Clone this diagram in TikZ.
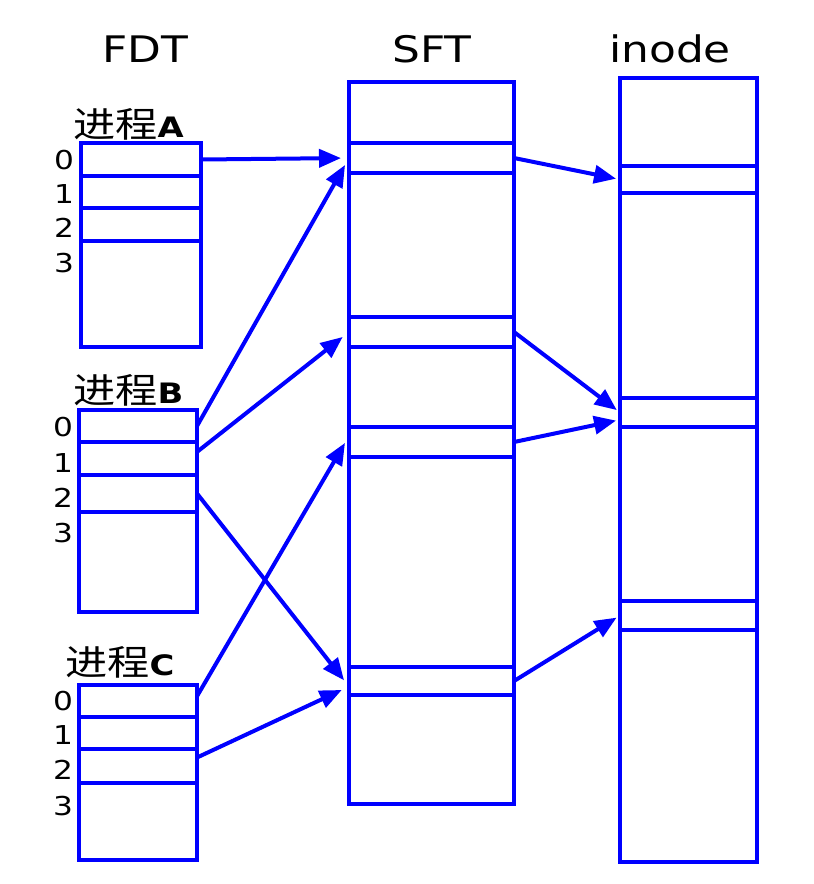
\documentclass[tikz,border=0pt]{standalone}
\usepackage{fontspec}
\setmainfont{DejaVu Sans}[FakeStretch=1.2]
\newfontfamily\cjk{Noto Sans CJK SC}[FakeStretch=1.2]
\usetikzlibrary{arrows.meta,calc}

\begin{document}
\begin{tikzpicture}[x=0.025cm, y=-0.025cm,
  cell/.style={draw=blue, line width=0.085cm, anchor=north west, inner sep=0pt, outer sep=0pt},
  ptr/.style={draw=blue, line width=0.1cm, -{Triangle[length=0.55cm, width=0.45cm]}, shorten >=0.2cm},
  title/.style={anchor=base, font=\fontsize{26}{30}\selectfont},
  idx/.style={anchor=base, font=\fontsize{18.5}{22}\selectfont},
  proc/.style={anchor=base west, inner sep=0pt, font=\fontsize{25}{30}\selectfont\cjk}]
\useasboundingbox (0,0) rectangle (814,884);
%--- headings ---
\node[title] (fdt) at (145,62) {FDT};
\node[title] (sfthead) at (432,62) {SFT};
\node[title] (inodehead) at (670,62) {inode};
%--- FDT of each process ---
\node[proc] (procA) at (73,137) {进程{\rmfamily\bfseries\fontsize{20}{24}\selectfont A}};
\foreach \n/\t/\b in {0/143/176, 1/176/208, 2/208/241, 3/241/347}
  \node[cell, minimum width=3cm, minimum height={(\b-\t)*0.025cm}] (A\n) at (81,\t) {};
\foreach \i/\y in {0/169, 1/203, 2/237, 3/272}
  \node[idx] (iA\i) at (64,\y) {\i};

\node[proc] (procB) at (73,403) {进程{\rmfamily\bfseries\fontsize{20}{24}\selectfont B}};
\foreach \n/\t/\b in {0/410/442, 1/442/475, 2/475/512, 3/512/612}
  \node[cell, minimum width=2.95cm, minimum height={(\b-\t)*0.025cm}] (B\n) at (79,\t) {};
\foreach \i/\y in {0/436, 1/472, 2/507, 3/542}
  \node[idx] (iB\i) at (63,\y) {\i};

\node[proc] (procC) at (65,675) {进程{\rmfamily\bfseries\fontsize{20}{24}\selectfont C}};
\foreach \n/\t/\b in {0/685/717, 1/717/749, 2/749/783, 3/783/860}
  \node[cell, minimum width=2.95cm, minimum height={(\b-\t)*0.025cm}] (C\n) at (79,\t) {};
\foreach \i/\y in {0/710, 1/744, 2/779, 3/815}
  \node[idx] (iC\i) at (63,\y) {\i};
%--- system file table ---
\foreach \n/\t/\b in {0/82/143, 1/143/173, 2/173/317, 3/317/347, 4/347/427, 5/427/457, 6/457/667, 7/667/695, 8/695/804}
  \node[cell, minimum width=4.125cm, minimum height={(\b-\t)*0.025cm}] (sft\n) at (349,\t) {};
%--- inode table ---
\foreach \n/\t/\b in {0/78/166, 1/166/193, 2/193/398, 3/398/427, 4/427/601, 5/601/630, 6/630/862}
  \node[cell, minimum width=3.425cm, minimum height={(\b-\t)*0.025cm}] (ino\n) at (620,\t) {};
%--- FDT -> SFT ---
\draw[ptr] (A0.east) -- (sft1.west);
\draw[ptr] (B0.east) -- (sft1.west);
\draw[ptr] ($(B1.east)!0.4!(B1.north east)$) -- (sft3.west);
\draw[ptr] (B2.east) -- ($(sft7.west)!0.4!(sft7.south west)$);
\draw[ptr] ($(C0.east)!0.3!(C0.north east)$) -- ($(sft5.west)!0.4!(sft5.north west)$);
\draw[ptr] ($(C2.east)!0.5!(C2.north east)$) -- ($(sft7.west)!0.4!(sft7.south west)$);
%--- SFT -> inode ---
\draw[ptr, shorten >=0.1cm] (sft1.east) -- (ino1.west);
\draw[ptr, shorten >=0.1cm] (sft3.east) -- (ino3.west);
\draw[ptr, shorten >=0.1cm] (sft5.east) -- ($(ino3.west)!0.5!(ino3.south west)$);
\draw[ptr, shorten >=0.1cm] (sft7.east) -- (ino5.west);
\end{tikzpicture}
\end{document}
